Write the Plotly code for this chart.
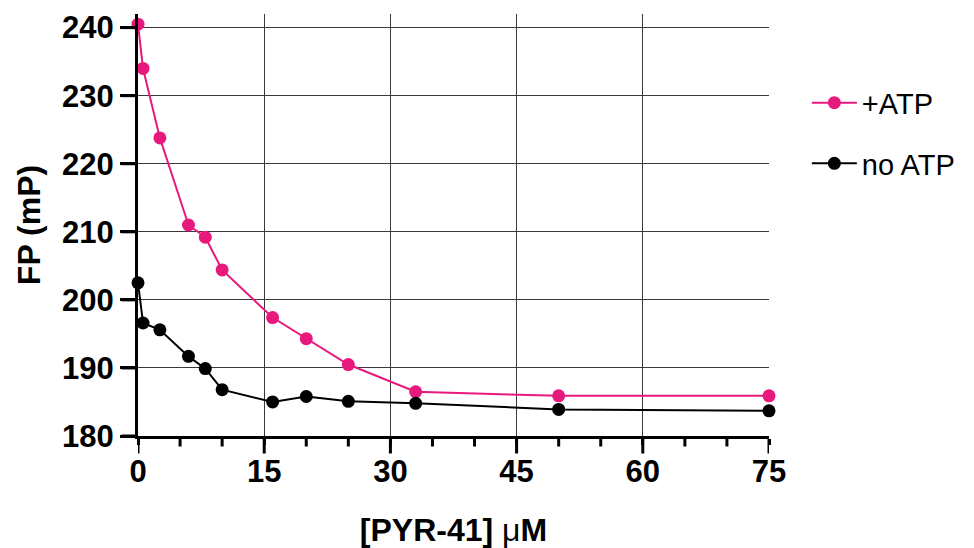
import plotly.graph_objects as go

# PYR-41 concentration (uM)
conc = [0, 0.6, 2.6, 6, 8, 10, 16, 20, 25, 33, 50, 75]

# Fluorescence polarisation (mP)
fp_atp = [240.5, 234.0, 223.8, 211.0, 209.2, 204.4, 197.4, 194.3, 190.5, 186.5, 185.9, 185.9]
fp_no_atp = [202.5, 196.6, 195.6, 191.7, 189.9, 186.8, 185.0, 185.8, 185.1, 184.8, 183.9, 183.7]

x_ticks = [0, 15, 30, 45, 60, 75]
x_minor_ticks = [5, 10, 20, 25, 35, 40, 50, 55, 65, 70]
y_ticks = [180, 190, 200, 210, 220, 230, 240]

PINK = "#E8197D"
FONT = "Liberation Sans, Arial, sans-serif"

W, H = 974, 548
MARGIN = dict(l=138, r=205, t=14, b=112)
PLOT_W = W - MARGIN["l"] - MARGIN["r"]
PLOT_H = H - MARGIN["t"] - MARGIN["b"]

fig = go.Figure()
fig.add_trace(go.Scatter(
    x=conc, y=fp_atp, name="+ATP", mode="lines+markers",
    line=dict(color=PINK, width=2), marker=dict(color=PINK, size=13),
    cliponaxis=False, legendgroup="a",
))
fig.add_trace(go.Scatter(
    x=conc, y=fp_no_atp, name="no ATP", mode="lines+markers",
    line=dict(color="black", width=2), marker=dict(color="black", size=13),
    cliponaxis=False, legendgroup="b",
))

axis_common = dict(
    showline=True, linecolor="black", linewidth=3,
    showgrid=True, gridcolor="#3a3a3a", gridwidth=1,
    ticks="outside", tickcolor="black", tickwidth=3,
    zeroline=False,
    tickfont=dict(family=FONT, size=31, color="black", weight="bold"),
)

fig.update_xaxes(
    **axis_common,
    range=[0, 75], tickvals=x_ticks, ticklen=6,
    title=dict(text='[PYR-41] <span style="font-weight:normal">\u03bc</span>M', standoff=36,
               font=dict(family=FONT, size=32, color="black", weight="bold")),
)
fig.update_yaxes(
    **axis_common,
    range=[180, 242], tickvals=y_ticks, ticklen=15,
    title=dict(text="FP (mP)", standoff=12,
               font=dict(family=FONT, size=32, color="black", weight="bold")),
)

# Tick marks drawn as axis-anchored strokes outside the plot area
tick_line = dict(color="black", width=3)
for v in x_ticks:
    fig.add_shape(type="line", xref="x", yref="paper", x0=v, x1=v,
                  y0=0, y1=-(1.5 + 16) / PLOT_H, line=tick_line, layer="above")
for v in x_minor_ticks:
    fig.add_shape(type="line", xref="x", yref="paper", x0=v, x1=v,
                  y0=0, y1=-(1.5 + 9) / PLOT_H, line=tick_line, layer="above")
for v in y_ticks:
    fig.add_shape(type="line", xref="paper", yref="y", y0=v, y1=v,
                  x0=0, x1=-(1.5 + 15) / PLOT_W, line=tick_line, layer="above")

fig.update_layout(
    template="none",
    width=W, height=H,
    margin=MARGIN,
    plot_bgcolor="white", paper_bgcolor="white",
    showlegend=True,
    legend=dict(
        x=1.06, xanchor="left", y=0.85, yanchor="top",
        font=dict(family=FONT, size=29, color="black"),
        tracegroupgap=20, itemwidth=45, bgcolor="rgba(0,0,0,0)",
    ),
)

fig.write_html("out.html")
